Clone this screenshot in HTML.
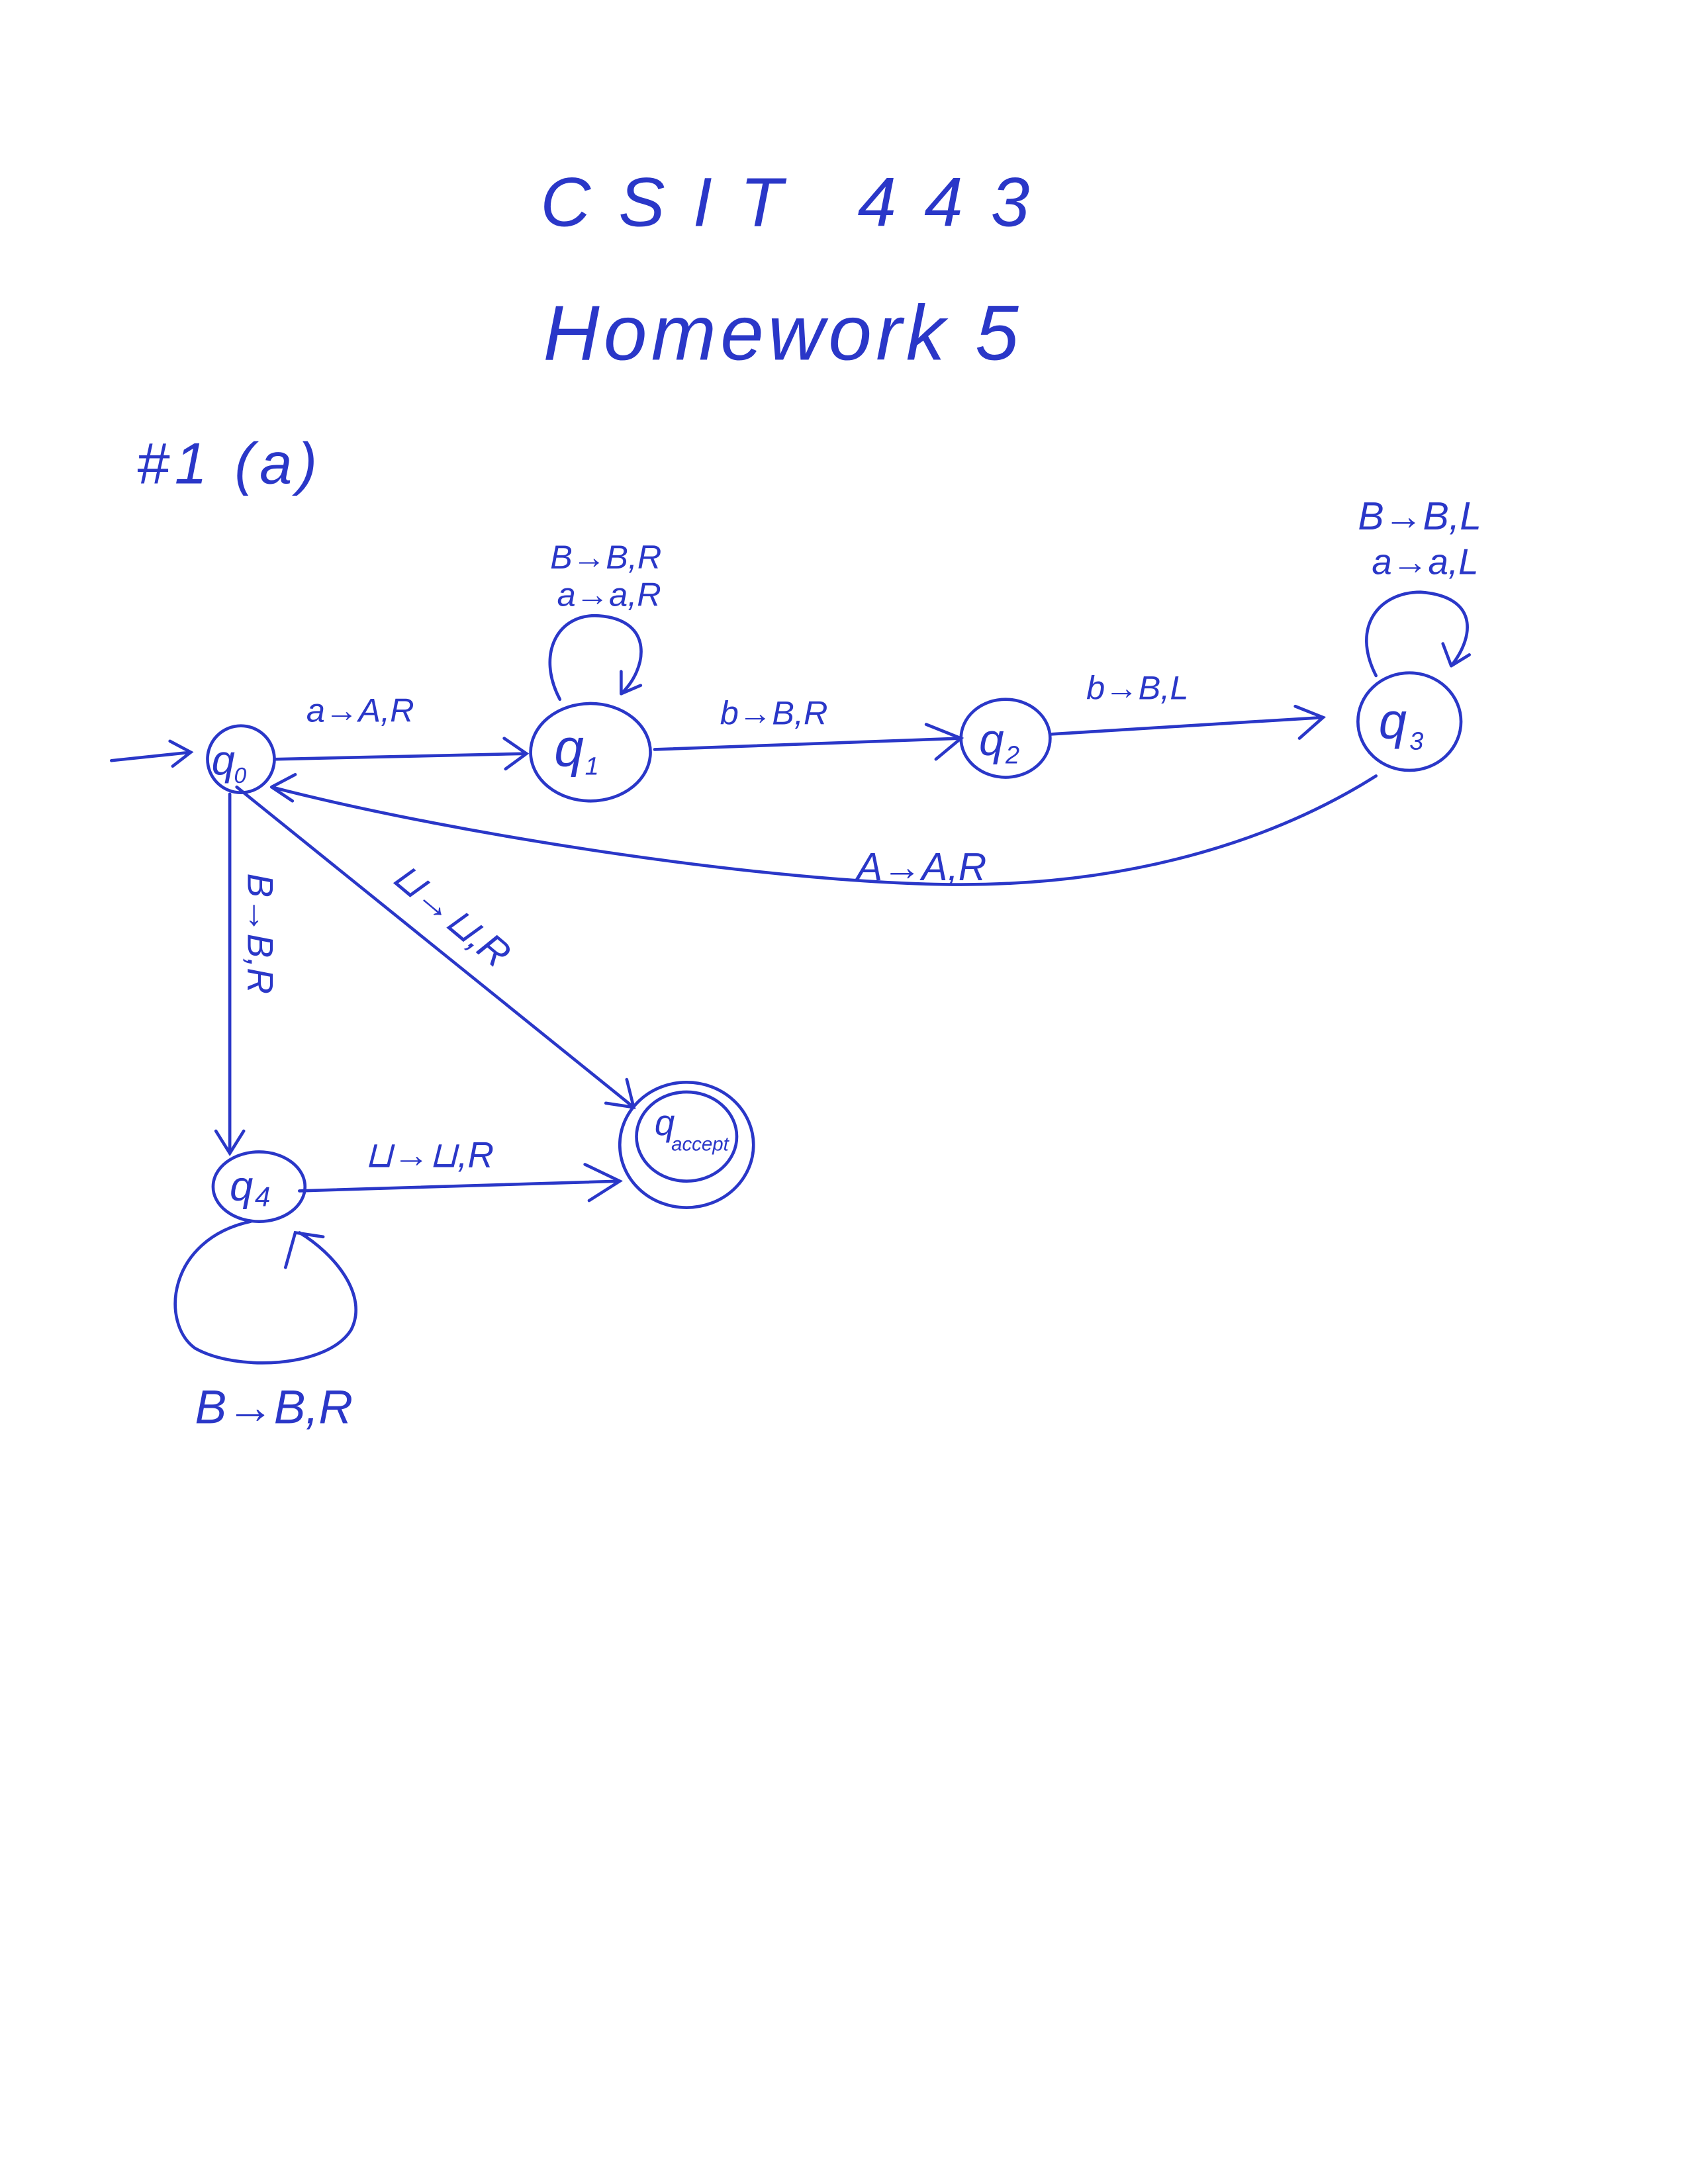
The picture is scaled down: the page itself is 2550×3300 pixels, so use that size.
<!DOCTYPE html>
<html><head><meta charset="utf-8"><style>
html,body{margin:0;padding:0;background:#fff}
svg{display:block}
text{font-family:"Liberation Sans",sans-serif;font-style:italic;fill:#2a37c8}
</style></head><body>
<svg width="2550" height="3300" viewBox="0 0 1212 1568" xmlns="http://www.w3.org/2000/svg">
<rect width="1212" height="1568" fill="#fff"/>
<g fill="none" stroke="#2a37c8" stroke-width="2.2" stroke-linecap="round">
<ellipse cx="173" cy="545" rx="24" ry="24"/>
<ellipse cx="424" cy="540" rx="43" ry="35"/>
<ellipse cx="722" cy="530" rx="32" ry="28"/>
<ellipse cx="1012" cy="518" rx="37" ry="35"/>
<ellipse cx="186" cy="852" rx="33" ry="25"/>
<ellipse cx="493" cy="822" rx="48" ry="45"/>
<ellipse cx="493" cy="816" rx="36" ry="32"/>
<path d="M80 546 L137 540 M122 532 L137 540 L124 550"/>
<path d="M198 545 L378 541 M362 530 L378 541 L363 552"/>
<path d="M402 502 C385 470 400 440 430 442 C470 445 465 480 446 498 M446 498 L446 482 M446 498 L460 492"/>
<path d="M470 538 L690 530 M665 520 L690 530 L672 545"/>
<path d="M755 527 L950 515 M930 507 L950 515 L933 530"/>
<path d="M988 485 C970 450 990 425 1020 425 C1060 428 1060 455 1042 478 M1042 478 L1036 462 M1042 478 L1055 470"/>
<path d="M988 557 C920 600 820 635 690 635 C560 635 330 600 195 565 M195 565 L212 556 M195 565 L210 575"/>
<path d="M170 565 L455 795 M435 792 L455 795 L450 775"/>
<path d="M165 570 L165 828 M155 812 L165 828 L175 812"/>
<path d="M215 855 L445 848 M420 836 L445 848 L423 862"/>
<path d="M180 877 C120 890 115 950 140 968 C170 985 235 982 252 955 C265 930 240 900 215 885 M205 910 L212 885 L232 888"/>
</g>
<g font-size="28">
<text x="388" y="162" font-size="50" font-style="normal" letter-spacing="20">CSIT 443</text>
<text x="390" y="258" font-size="56" letter-spacing="3">Homework 5</text>
<text x="98" y="347" font-size="42" letter-spacing="4">#1 (a)</text>
<text x="395" y="408" font-size="24">B→B,R</text>
<text x="400" y="435" font-size="24">a→a,R</text>
<text x="220" y="518" font-size="24">a→A,R</text>
<text x="517" y="520" font-size="24">b→B,R</text>
<text x="780" y="502" font-size="24">b→B,L</text>
<text x="975" y="380" font-size="28">B→B,L</text>
<text x="985" y="412" font-size="26">a→a,L</text>
<text x="615" y="632" font-size="28">A→A,R</text>
<text x="262" y="838" font-size="26">⊔→⊔,R</text>
<text x="140" y="1022" font-size="34">B→B,R</text>
<text transform="translate(280,632) rotate(40)" font-size="28">⊔→⊔,R</text>
<text transform="translate(178,627) rotate(90)" font-size="26">B→B,R</text>
<text x="152" y="556" font-size="30">q</text><text x="168" y="562" font-size="16">0</text>
<text x="398" y="550" font-size="38">q</text><text x="420" y="556" font-size="18">1</text>
<text x="703" y="542" font-size="32">q</text><text x="722" y="548" font-size="18">2</text>
<text x="990" y="530" font-size="36">q</text><text x="1012" y="538" font-size="18">3</text>
<text x="165" y="862" font-size="30">q</text><text x="183" y="866" font-size="20">4</text>
<text x="470" y="815" font-size="26">q</text><text x="482" y="826" font-size="14">accept</text>
</g>
</svg>
</body></html>
